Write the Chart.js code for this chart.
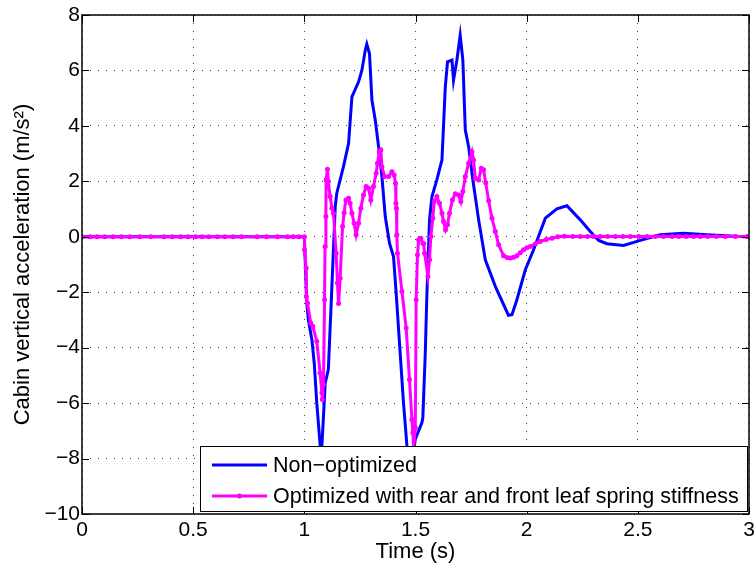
<!DOCTYPE html>
<html>
<head>
<meta charset="utf-8">
<script src="https://cdn.jsdelivr.net/npm/chart.js@4"></script>
<style>
  body { margin: 0; background: #fff; }
</style>
</head>
<body>
<canvas id="accelChart" width="756" height="569"></canvas>
<script>
const xTicks = [0, 0.5, 1, 1.5, 2, 2.5, 3];
const yTicks = [-10, -8, -6, -4, -2, 0, 2, 4, 6, 8];

const seriesNames = [
  "Non\u2212optimized",
  "Optimized with rear and front leaf spring stiffness",
];

// non-optimized (blue)
const blueT = [0, 1.0, 1.011, 1.018, 1.034, 1.045, 1.056, 1.076, 1.094, 1.108, 1.124, 1.139, 1.146, 1.176, 1.199, 1.214, 1.244, 1.259, 1.274, 1.281, 1.293, 1.304, 1.319, 1.334, 1.349, 1.364, 1.383, 1.401, 1.413, 1.431, 1.446, 1.461, 1.478, 1.499, 1.529, 1.533, 1.544, 1.551, 1.563, 1.574, 1.596, 1.619, 1.634, 1.644, 1.664, 1.671, 1.686, 1.701, 1.713, 1.724, 1.739, 1.758, 1.784, 1.814, 1.859, 1.918, 1.934, 1.956, 1.994, 2.031, 2.084, 2.136, 2.181, 2.241, 2.286, 2.324, 2.361, 2.436, 2.511, 2.601, 2.706, 2.811, 3.0];
const blueY = [0, 0, -2.38, -2.99, -3.71, -4.6, -6.0, -8.0, -5.27, -4.79, -1.79, 1.09, 1.57, 2.53, 3.37, 5.05, 5.59, 6.01, 6.73, 6.95, 6.61, 4.93, 4.21, 3.25, 2.17, 0.73, -0.23, -0.71, -2.03, -4.19, -5.99, -7.49, -8.6, -7.3, -6.7, -6.53, -4.19, -2.15, 0.61, 1.45, 2.05, 2.77, 5.41, 6.31, 6.37, 5.65, 6.37, 7.27, 6.37, 3.85, 3.25, 2.05, 0.61, -0.83, -1.79, -2.83, -2.81, -2.27, -1.19, -0.47, 0.67, 1.01, 1.12, 0.61, 0.19, -0.13, -0.25, -0.31, -0.13, 0.07, 0.13, 0.07, -0.01];

// optimized (magenta)
const magT = [0, 0.037, 0.068, 0.102, 0.140, 0.177, 0.215, 0.260, 0.309, 0.369, 0.406, 0.444, 0.477, 0.510, 0.540, 0.570, 0.609, 0.642, 0.680, 0.717, 0.788, 0.830, 0.879, 0.924, 0.950, 0.975, 1.0,
  1.001, 1.008, 1.009, 1.014, 1.029, 1.038, 1.056, 1.071, 1.079, 1.081, 1.086, 1.091, 1.093, 1.097, 1.098, 1.104, 1.108, 1.116, 1.124, 1.131, 1.143, 1.149, 1.154, 1.161, 1.172, 1.179, 1.187, 1.199, 1.206, 1.214, 1.224, 1.233, 1.244, 1.254, 1.266, 1.278, 1.289, 1.299, 1.311, 1.323, 1.329, 1.337, 1.344, 1.349, 1.361, 1.379, 1.394, 1.404, 1.410, 1.412, 1.414, 1.416, 1.419, 1.439, 1.458, 1.473, 1.484, 1.488, 1.492, 1.499, 1.503, 1.509, 1.514, 1.524, 1.533, 1.537, 1.541, 1.556, 1.563, 1.569, 1.578, 1.584, 1.596, 1.608, 1.619, 1.626, 1.635, 1.644, 1.653, 1.666, 1.679, 1.694, 1.704, 1.713, 1.724, 1.739, 1.754, 1.761, 1.769, 1.784, 1.796, 1.806, 1.816, 1.829, 1.844, 1.859, 1.874, 1.896, 1.911, 1.926, 1.941, 1.956, 1.971, 1.986, 2.001, 2.016, 2.04, 2.061, 2.088, 2.114, 2.14, 2.169,
  2.207, 2.241, 2.274, 2.301, 2.331, 2.364, 2.399, 2.433, 2.466, 2.504, 2.541, 2.579, 2.616, 2.654, 2.684, 2.718, 2.751, 2.781, 2.814, 2.853, 2.894, 2.939, 2.991, 3.0];
const magY = [0, 0, 0, 0, 0, 0, 0, 0, 0, 0, 0, 0, 0, 0, 0, 0, 0, 0, 0, 0, 0, 0, 0, 0, 0, 0, 0,
  -0.47, -1.13, -2.15, -2.39, -3.11, -3.23, -3.77, -4.91, -5.63, -5.87, -5.33, -2.27, -0.35, 0.73, 2.05, 2.44, 1.99, 1.45, 1.03, 0.85, -0.59, -1.67, -2.41, -1.49, 0.37, 0.87, 1.33, 1.39, 1.21, 0.85, 0.49, 0.07, 0.49, 1.03, 1.51, 1.81, 1.75, 1.33, 1.81, 2.29, 2.65, 3.07, 3.13, 2.53, 2.17, 2.17, 2.35, 2.23, 1.93, 1.21, 1.03, 0.07, -0.59, -1.97, -3.29, -5.15, -6.59, -7.07, -7.6, -6.89, -2.27, -0.65, -0.11, -0.05, -0.23, -0.25, -0.59, -1.43, -0.83, 0.01, 0.67, 1.27, 1.45, 1.21, 0.85, 0.55, 0.25, 0.43, 0.85, 1.33, 1.55, 1.51, 1.27, 1.63, 2.17, 2.65, 3.07, 2.77, 2.11, 2.05, 2.47, 2.42, 1.95, 1.3, 0.67, 0.19, -0.29, -0.68, -0.75, -0.77, -0.74, -0.68, -0.58, -0.47, -0.4, -0.35, -0.25, -0.17, -0.1, -0.05, 0.0, 0.02,
  0.01, 0.01, 0.01, 0.01, 0.01, 0.01, 0.01, 0.01, 0.01, 0.01, 0.01, 0.01, 0.01, 0.01, 0.01, 0.01, 0.01, 0.01, 0.01, 0.01, 0.01, 0.01, 0.01, 0.01];

const BLUE = "#0000ff";
const MAGENTA = "#ff00ff";
const FONT = '"Liberation Sans", Arial, sans-serif';
const TICK_SIZE = 21;
const LABEL_SIZE = 22;
const LEGEND_SIZE = 21.5;

const toPoints = (ts, ys) => ts.map((t, i) => ({ x: t, y: ys[i] }));
const minus = (v) => String(v).replace("-", "\u2212");

// MATLAB-like box: inward ticks on all sides, frame, legend inside the axes
const matlabFrame = {
  id: "matlabFrame",
  afterDatasetsDraw(chart) {
    const { ctx, chartArea: a, scales } = chart;
    const tick = 7;
    ctx.save();
    ctx.strokeStyle = "#000";
    ctx.lineWidth = 1;
    ctx.beginPath();
    xTicks.forEach((v) => {
      const px = Math.round(scales.x.getPixelForValue(v)) + 0.5;
      ctx.moveTo(px, a.bottom);
      ctx.lineTo(px, a.bottom - tick);
      ctx.moveTo(px, a.top);
      ctx.lineTo(px, a.top + tick);
    });
    yTicks.forEach((v) => {
      const py = Math.round(scales.y.getPixelForValue(v)) + 0.5;
      ctx.moveTo(a.left, py);
      ctx.lineTo(a.left + tick, py);
      ctx.moveTo(a.right, py);
      ctx.lineTo(a.right - tick, py);
    });
    ctx.stroke();

    // legend box
    const bw = 547;
    const bh = 65;
    const bx = a.right - bw - 2;
    const by = a.bottom - bh - 3;
    ctx.fillStyle = "#fff";
    ctx.fillRect(bx, by, bw, bh);
    ctx.lineWidth = 1;
    ctx.strokeRect(bx + 0.5, by + 0.5, bw, bh);

    const rows = [by + 19, by + 50];
    const colors = [BLUE, MAGENTA];
    ctx.font = LEGEND_SIZE + "px " + FONT;
    ctx.textBaseline = "middle";
    rows.forEach((ry, i) => {
      ctx.strokeStyle = colors[i];
      ctx.lineWidth = 3;
      ctx.beginPath();
      ctx.moveTo(bx + 12, ry);
      ctx.lineTo(bx + 67, ry);
      ctx.stroke();
      if (i === 1) {
        ctx.fillStyle = MAGENTA;
        ctx.beginPath();
        ctx.arc(bx + 39.5, ry, 2.5, 0, Math.PI * 2);
        ctx.fill();
      }
      ctx.fillStyle = "#000";
      ctx.fillText(seriesNames[i], bx + 73, ry + 1);
    });

    // axes frame
    ctx.strokeStyle = "#000";
    ctx.lineWidth = 1.5;
    ctx.strokeRect(a.left, a.top, a.right - a.left, a.bottom - a.top);
    ctx.restore();
  },
};

new Chart(document.getElementById("accelChart"), {
  type: "line",
  data: {
    datasets: [
      {
        label: seriesNames[0],
        data: toPoints(blueT, blueY),
        borderColor: BLUE,
        borderWidth: 3,
        pointRadius: 0,
        tension: 0,
        order: 2,
      },
      {
        label: seriesNames[1],
        data: toPoints(magT, magY),
        borderColor: MAGENTA,
        backgroundColor: MAGENTA,
        borderWidth: 3,
        pointRadius: 2.5,
        pointBorderWidth: 0,
        pointBackgroundColor: MAGENTA,
        tension: 0,
        order: 1,
      },
    ],
  },
  options: {
    responsive: false,
    animation: false,
    devicePixelRatio: 1,
    layout: {
      padding: { top: 15, right: 7, left: 0, bottom: 0 },
    },
    plugins: {
      legend: { display: false },
      tooltip: { enabled: false },
    },
    scales: {
      x: {
        type: "linear",
        min: 0,
        max: 3,
        afterBuildTicks: (s) => {
          s.ticks = xTicks.map((v) => ({ value: v }));
        },
        afterFit: (s) => {
          s.height = 55;
          s.paddingLeft = 0;
          s.paddingRight = 0;
        },
        ticks: {
          color: "#000",
          font: { family: FONT, size: TICK_SIZE },
          padding: 4,
          maxRotation: 0,
          callback: (v) => minus(v),
        },
        grid: {
          color: "#444",
          lineWidth: 1,
          drawTicks: false,
        },
        border: { display: false, dash: [1, 7] },
        title: {
          display: true,
          text: "Time (s)",
          color: "#000",
          font: { family: FONT, size: LABEL_SIZE },
          padding: { top: 0, bottom: 4 },
        },
      },
      y: {
        type: "linear",
        min: -10,
        max: 8,
        afterBuildTicks: (s) => {
          s.ticks = yTicks.map((v) => ({ value: v }));
        },
        afterFit: (s) => {
          s.width = 82;
          s.paddingTop = 0;
          s.paddingBottom = 0;
        },
        ticks: {
          color: "#000",
          font: { family: FONT, size: TICK_SIZE },
          padding: 2,
          callback: (v) => minus(v),
        },
        grid: {
          color: "#444",
          lineWidth: 1,
          drawTicks: false,
        },
        border: { display: false, dash: [1, 7] },
        title: {
          display: true,
          text: "Cabin vertical acceleration (m/s\u00b2)",
          color: "#000",
          font: { family: FONT, size: LABEL_SIZE },
          padding: { top: 10, bottom: 0 },
        },
      },
    },
  },
  plugins: [matlabFrame],
});
</script>
</body>
</html>
